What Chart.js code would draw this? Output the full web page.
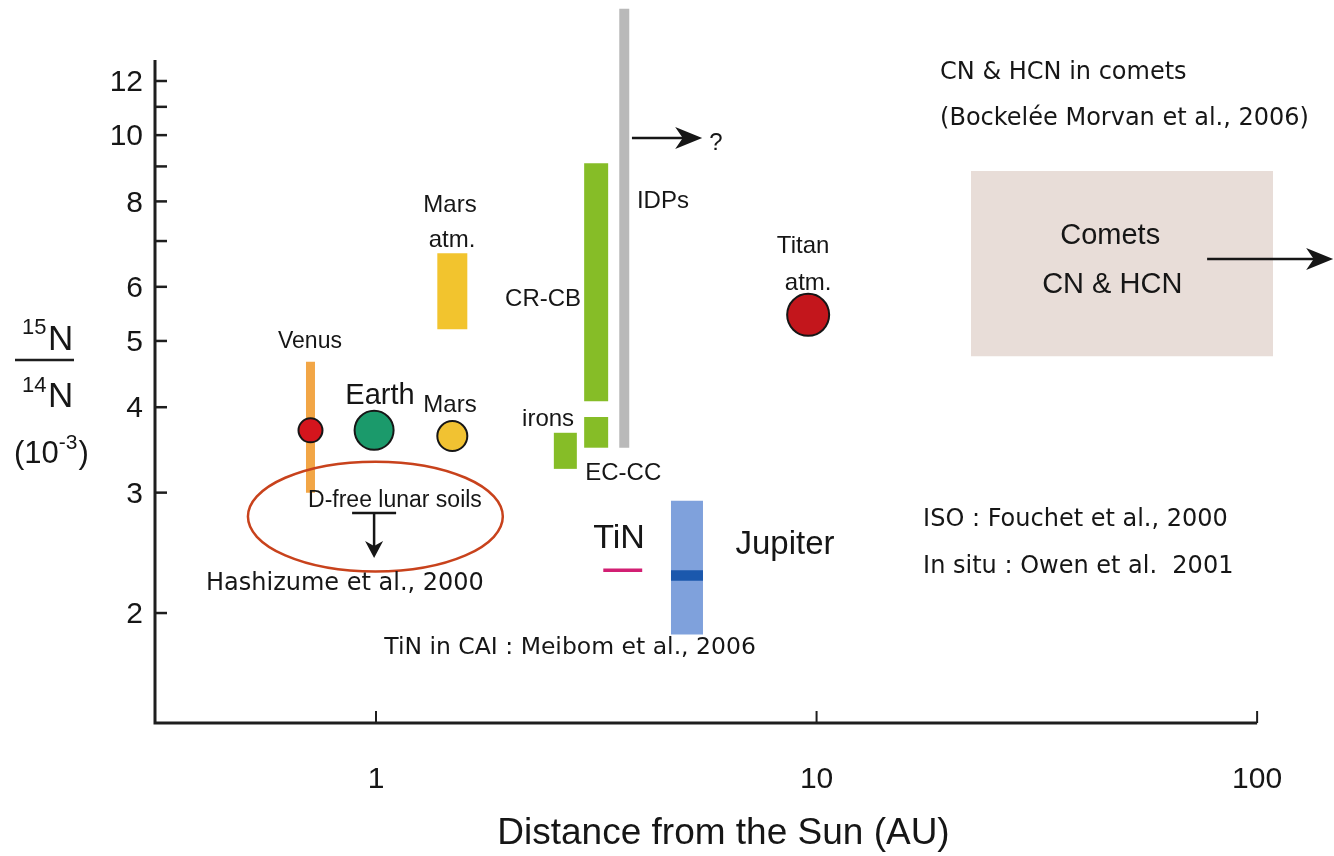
<!DOCTYPE html>
<html>
<head>
<meta charset="utf-8">
<script src="https://cdn.jsdelivr.net/npm/chart.js@4.4.1/dist/chart.umd.min.js"></script>
<style>
  html, body { margin: 0; padding: 0; background: #fff; }
  #wrap { width: 1334px; height: 856px; position: relative; }
</style>
</head>
<body>
<div id="wrap"><canvas id="chart"></canvas></div>
<script>
// 15N/14N (x 1e-3) against heliocentric distance (AU)

// planets / satellites drawn as circles
const bodyNames = ['Venus', 'Earth', 'Mars', 'Titan'];
const bodyAU = [0.71, 0.99, 1.49, 9.57];
const bodyRatio = [3.70, 3.70, 3.63, 5.46];

// measured ranges drawn as vertical bars
const rangeNames = ['Venus', 'Mars atm.', 'irons', 'CR-CB', 'EC-CC', 'IDPs', 'Jupiter'];
const rangeAU = [0.71, 1.49, 2.69, 3.16, 3.16, 3.66, 5.08];
const rangeLow = [3.00, 5.20, 3.25, 4.08, 3.49, 3.49, 1.86];
const rangeHigh = [4.66, 6.72, 3.67, 9.10, 3.87, 15.3, 2.92];

// Jupiter in situ value
const jupiterInSitu = [2.23, 2.31];
// TiN in CAI
const tinAU = [3.28, 4.02];
const tinRatio = 2.31;
// comets CN & HCN box
const cometAU = [22.4, 108.7];
const cometRatio = [4.75, 8.86];
// D-free lunar soils, upper limit
const lunarAU = 0.99;
const lunarRatio = 2.80;

const xTicks = [1, 10, 100];
const yTicks = [2, 3, 4, 5, 6, 7, 8, 9, 10, 11, 12];
const yTickLabels = ['2', '3', '4', '5', '6', '', '8', '', '10', '', '12'];

// styles
const sans = "'Liberation Sans', Arial, sans-serif";
const hand = "'DejaVu Sans', sans-serif";
const ink = '#161616';
const rangeColors = ['#f2a646', '#f2c42e', '#86bd27', '#86bd27', '#86bd27', '#b9b9b9', '#7fa1dc'];
const rangeWidths = [9, 30, 23, 24, 24, 10, 32];
const bodyColors = ['#d4151d', '#1b9a6b', '#f1c232', '#c3161c'];
const bodyRadius = [12, 19.5, 15, 21];

// labels anchored in data space
const notes = [
  { text: 'Mars', x: 1.472, y: 7.90, size: 24 },
  { text: 'atm.', x: 1.488, y: 7.02, size: 24 },
  { text: 'Venus', x: 0.708, y: 4.98, size: 23 },
  { text: 'Earth', x: 1.021, y: 4.15, size: 29 },
  { text: 'Mars', x: 1.472, y: 4.02, size: 24 },
  { text: 'D-free lunar soils', x: 1.104, y: 2.92, size: 23 },
  { text: 'CR-CB', x: 2.394, y: 5.76, size: 24 },
  { text: 'irons', x: 2.458, y: 3.84, size: 24 },
  { text: 'EC-CC', x: 3.64, y: 3.20, size: 24 },
  { text: 'IDPs', x: 4.48, y: 8.01, size: 24 },
  { text: '?', x: 5.91, y: 9.73, size: 24 },
  { text: 'Titan', x: 9.32, y: 6.88, size: 24 },
  { text: 'atm.', x: 9.57, y: 6.08, size: 24 },
  { text: 'TiN', x: 3.56, y: 2.57, size: 34 },
  { text: 'Jupiter', x: 8.48, y: 2.52, size: 33 },
  { text: 'Comets', x: 46.4, y: 7.12, size: 29 },
  { text: 'CN & HCN', x: 46.9, y: 6.03, size: 29 },
  { text: 'Hashizume et al., 2000', x: 0.850, y: 2.21, size: 24, family: hand },
  { text: 'TiN in CAI : Meibom et al., 2006', x: 2.757, y: 1.778, size: 23.5, family: hand },
  { text: 'CN & HCN in comets', x: 19.07, y: 12.32, size: 24, family: hand, align: 'left' },
  { text: '(Bockelée Morvan et al., 2006)', x: 19.07, y: 10.55, size: 24, family: hand, align: 'left' },
  { text: 'ISO : Fouchet et al., 2000', x: 17.45, y: 2.735, size: 24, family: hand, align: 'left' },
  { text: 'In situ : Owen et al.  2001', x: 17.45, y: 2.334, size: 24, family: hand, align: 'left' }
];
const ellipseAU = [0.512, 1.94];
const ellipseRatio = [2.30, 3.33];
const arrows = [
  { from: [3.81, 9.90], to: [5.50, 9.90] },
  { from: [77, 6.59], to: [148.8, 6.59] }
];
const axisX = [0.315, 100];
const axisY = [1.381, 12.88];

function drawArrow(ctx, x1, y1, x2, y2, len, half) {
  const a = Math.atan2(y2 - y1, x2 - x1);
  ctx.beginPath();
  ctx.moveTo(x1, y1);
  ctx.lineTo(x2 - len * 0.7 * Math.cos(a), y2 - len * 0.7 * Math.sin(a));
  ctx.stroke();
  ctx.save();
  ctx.translate(x2, y2);
  ctx.rotate(a);
  ctx.beginPath();
  ctx.moveTo(0, 0);
  ctx.lineTo(-len, -half);
  ctx.lineTo(-len * 0.72, 0);
  ctx.lineTo(-len, half);
  ctx.closePath();
  ctx.fill();
  ctx.restore();
}

const annotate = {
  id: 'annotate',
  afterDatasetsDraw(chart) {
    const ctx = chart.ctx;
    const xs = chart.scales.x, ys = chart.scales.y;
    const X = v => xs.getPixelForValue(v), Y = v => ys.getPixelForValue(v);
    ctx.save();

    // axes with inward ticks
    ctx.strokeStyle = '#1e1e1e';
    ctx.lineWidth = 3;
    const ox = X(axisX[0]), oy = Y(axisY[0]);
    ctx.beginPath();
    ctx.moveTo(ox, Y(axisY[1]));
    ctx.lineTo(ox, oy);
    ctx.lineTo(X(axisX[1]), oy);
    ctx.stroke();
    ctx.lineWidth = 2.5;
    yTicks.forEach(v => {
      ctx.beginPath(); ctx.moveTo(ox, Y(v)); ctx.lineTo(ox + 12, Y(v)); ctx.stroke();
    });
    ctx.lineWidth = 2;
    xTicks.forEach(v => {
      ctx.beginPath(); ctx.moveTo(X(v), oy); ctx.lineTo(X(v), oy - 12); ctx.stroke();
    });

    // y axis title: 15N / 14N (10^-3)
    ctx.fillStyle = ink;
    ctx.textAlign = 'left';
    ctx.textBaseline = 'alphabetic';
    ctx.font = `22px ${sans}`;
    ctx.fillText('15', 22, 334);
    ctx.fillText('14', 22, 392);
    ctx.font = `35px ${sans}`;
    ctx.fillText('N', 48, 350);
    ctx.fillText('N', 48, 407);
    ctx.lineWidth = 2.5;
    ctx.beginPath(); ctx.moveTo(15, 360); ctx.lineTo(74, 360); ctx.stroke();
    ctx.font = `31px ${sans}`;
    ctx.fillText('(10', 14, 463);
    let w = ctx.measureText('(10').width;
    ctx.font = `21px ${sans}`;
    ctx.fillText('-3', 14 + w, 449);
    w += ctx.measureText('-3').width;
    ctx.font = `31px ${sans}`;
    ctx.fillText(')', 15 + w, 463);

    // ellipse round the lunar soil limit
    const ex1 = X(ellipseAU[0]), ex2 = X(ellipseAU[1]);
    const ey1 = Y(ellipseRatio[1]), ey2 = Y(ellipseRatio[0]);
    ctx.strokeStyle = '#c8421c';
    ctx.lineWidth = 2.5;
    ctx.beginPath();
    ctx.ellipse((ex1 + ex2) / 2, (ey1 + ey2) / 2, (ex2 - ex1) / 2, (ey2 - ey1) / 2, 0, 0, Math.PI * 2);
    ctx.stroke();

    // upper limit marker
    ctx.strokeStyle = ink;
    ctx.fillStyle = ink;
    ctx.lineWidth = 2.5;
    const lx = X(lunarAU), ly = Y(lunarRatio);
    ctx.beginPath(); ctx.moveTo(lx - 22, ly); ctx.lineTo(lx + 22, ly); ctx.stroke();
    drawArrow(ctx, lx, ly, lx, ly + 45, 17, 9);

    // arrows
    arrows.forEach(a => drawArrow(ctx, X(a.from[0]), Y(a.from[1]), X(a.to[0]), Y(a.to[1]), 27, 11));

    // text labels
    ctx.textBaseline = 'middle';
    notes.forEach(n => {
      ctx.font = `${n.size}px ${n.family || sans}`;
      ctx.textAlign = n.align || 'center';
      ctx.fillText(n.text, X(n.x), Y(n.y));
    });
    ctx.restore();
  }
};

const datasets = [];
datasets.push({
  type: 'line', label: 'Comets top', order: 10,
  data: cometAU.map(x => ({ x, y: cometRatio[1] })),
  borderColor: 'rgba(0,0,0,0)', borderWidth: 1, pointRadius: 0,
  backgroundColor: '#e8ddd8', fill: '+1'
});
datasets.push({
  type: 'line', label: 'Comets bottom', order: 10,
  data: cometAU.map(x => ({ x, y: cometRatio[0] })),
  borderColor: 'rgba(0,0,0,0)', borderWidth: 1, pointRadius: 0, fill: false
});
rangeNames.forEach((name, i) => {
  datasets.push({
    type: 'line', label: name, order: 5,
    data: [{ x: rangeAU[i], y: rangeLow[i] }, { x: rangeAU[i], y: rangeHigh[i] }],
    borderColor: rangeColors[i], borderWidth: rangeWidths[i], borderCapStyle: 'butt',
    pointRadius: 0, fill: false
  });
});
datasets.push({
  type: 'line', label: 'Jupiter in situ', order: 4,
  data: jupiterInSitu.map(y => ({ x: rangeAU[6], y })),
  borderColor: '#1b58ad', borderWidth: 32, borderCapStyle: 'butt', pointRadius: 0, fill: false
});
datasets.push({
  type: 'line', label: 'TiN', order: 3,
  data: tinAU.map(x => ({ x, y: tinRatio })),
  borderColor: '#d21f73', borderWidth: 3.5, borderCapStyle: 'butt', pointRadius: 0, fill: false
});
datasets.push({
  type: 'scatter', label: 'bodies', order: 1,
  data: bodyAU.map((x, i) => ({ x, y: bodyRatio[i] })),
  pointRadius: bodyRadius, pointBackgroundColor: bodyColors,
  pointBorderColor: ink, pointBorderWidth: 2
});

new Chart(document.getElementById('chart'), {
  type: 'scatter',
  data: { datasets },
  options: {
    responsive: true,
    maintainAspectRatio: false,
    animation: false,
    devicePixelRatio: 1,
    events: [],
    layout: { autoPadding: false, padding: { top: 5, right: 42, bottom: 0, left: 0 } },
    plugins: { legend: { display: false }, tooltip: { enabled: false } },
    scales: {
      x: {
        type: 'logarithmic', min: 0.315, max: 120, bounds: 'data',
        grid: { display: false, drawTicks: false },
        border: { display: false },
        ticks: {
          autoSkip: false, maxRotation: 0, padding: 39, color: ink,
          font: { family: sans, size: 30 },
          callback: v => String(v)
        },
        title: {
          display: true, text: 'Distance from the Sun (AU)', color: ink,
          font: { family: sans, size: 37 }, padding: { top: 0, bottom: 0 }
        },
        afterBuildTicks: s => { s.ticks = xTicks.map(v => ({ value: v })); },
        afterFit: s => { s.height = 133; s.paddingLeft = 0; s.paddingRight = 0; }
      },
      y: {
        type: 'logarithmic', min: 1.381, max: 15.5, bounds: 'data',
        grid: { display: false, drawTicks: false },
        border: { display: false },
        ticks: {
          autoSkip: false, padding: 12, labelOffset: 2, color: ink,
          font: { family: sans, size: 30 },
          callback: (v, i) => yTickLabels[i]
        },
        afterBuildTicks: s => { s.ticks = yTicks.map(v => ({ value: v })); },
        afterFit: s => { s.width = 155; s.paddingTop = 0; s.paddingBottom = 0; }
      }
    }
  },
  plugins: [annotate]
});
</script>
</body>
</html>
